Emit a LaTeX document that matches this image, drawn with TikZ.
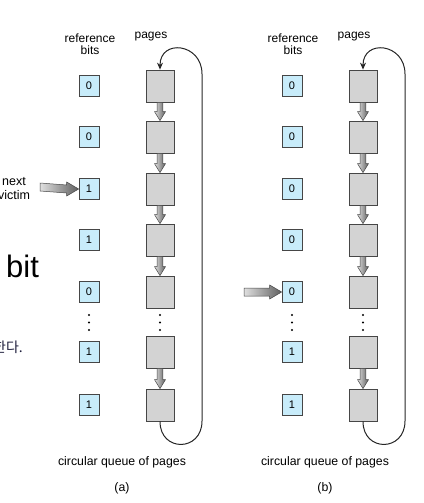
\documentclass[tikz,border=0pt]{standalone}
\usepackage{fontspec}
\setmainfont{Liberation Sans}
\newfontfamily\krfont{Noto Sans CJK KR}
\usetikzlibrary{calc,arrows.meta}
\definecolor{bitblue}{RGB}{200,236,250}
\definecolor{pagegray}{RGB}{211,211,211}
\definecolor{edgegray}{RGB}{70,70,70}
\definecolor{krtext}{RGB}{30,30,60}
\tikzset{
  pagebox/.style={draw=edgegray, fill=pagegray, line width=0.8pt, minimum width=28, minimum height=32, inner sep=0},
  bitbox/.style={draw=edgegray, fill=bitblue, line width=0.7pt, minimum width=20, minimum height=21, inner sep=0, font=\fontsize{11}{12}\selectfont},
  lbl/.style={font=\fontsize{12}{12.5}\selectfont, align=center},
  caption/.style={font=\fontsize{12.3}{14}\selectfont},
  fatarrow/.style={left color=gray!25, right color=gray!75!black, draw=edgegray, line width=0.5pt},
  loopline/.style={draw=black!85, line width=1pt, -{Stealth[length=7pt,width=6pt]}},
  dotmark/.style={fill=black, draw=none}
}
\newcommand\vArr[2]{%
  \shade[fatarrow] ($(#1.south)+(-2.8,0)$) -- ($(#2.north)+(-2.8,-9)$) -- ($(#2.north)+(-5.5,-9)$) -- (#2.north) -- ($(#2.north)+(5.5,-9)$) -- ($(#2.north)+(2.8,-9)$) -- ($(#1.south)+(2.8,0)$) -- cycle;}
\newcommand\hArr[2]{%
  \shade[fatarrow] ($(#1)+(0,-4)$) -- ($(#2.west)+(-12,-4)$) -- ($(#2.west)+(-12,-7)$) -- (#2.west) -- ($(#2.west)+(-12,7)$) -- ($(#2.west)+(-12,4)$) -- ($(#1)+(0,4)$) -- cycle;}
\begin{document}
\begin{tikzpicture}[x=1pt,y=-1pt]
\useasboundingbox (0,0) rectangle (423,503);
% background slide fragments
\node[anchor=base west, inner sep=0, font=\fontsize{31}{33}\selectfont] (bittxt) at (6,277) {bit};
\node[anchor=base west, inner sep=0, text=krtext, font=\krfont\fontsize{14}{16}\selectfont] (kr) at (-7,352) {한다.};
\foreach \pan/\dx/\bits/\cap in {a/0/{0,0,1,1,0,1,1}/(a), b/203/{0,0,0,0,0,1,1}/(b)} {
  \begin{scope}[xshift=\dx]
    \node[lbl] (rb\pan) at (90,44) {reference\\bits};
    \node[lbl] (pg\pan) at (151,37) {pages};
    \foreach \y [count=\i] in {86,137,189,240,292,352,405} {
      \node[pagebox] (p\pan\i) at (160,\y) {};
    }
    \foreach \b [count=\i] in \bits {
      \pgfmathsetmacro\yy{{86,137,189,240,292,352,405}[\i-1]}
      \node[bitbox] (b\pan\i) at (89,\yy) {\b};
    }
    \foreach \x in {89,160} {
      \foreach \yd in {315,322.5,330} { \fill[dotmark] (\x,\yd) circle (1.2); }
    }
    \node[caption] (cq\pan) at (122,462) {circular queue of pages};
    \node[caption] (lab\pan) at (122,488) {\cap};
    \coordinate (lb\pan) at (202,421);
    \coordinate (lt\pan) at (202,74);
  \end{scope}
}
\foreach \pan in {a,b} {
  \vArr{p\pan1}{p\pan2}
  \vArr{p\pan2}{p\pan3}
  \vArr{p\pan3}{p\pan4}
  \vArr{p\pan4}{p\pan5}
  \vArr{p\pan6}{p\pan7}
  \draw[loopline] (p\pan7.south) .. controls +(0,31) and +(0,31) .. (lb\pan) -- (lt\pan) .. controls +(0,-31) and +(0,-31) .. (p\pan1.north);
}
% next victim arrow (a)
\node[font=\fontsize{12.5}{14}\selectfont, align=center, inner sep=0] (nv) at (14,189) {next\\victim};
\coordinate (nvs) at (40,187);
\hArr{nvs}{ba3}
% arrow (b)
\coordinate (nbs) at (244,292);
\hArr{nbs}{bb5}
\end{tikzpicture}
\end{document}
